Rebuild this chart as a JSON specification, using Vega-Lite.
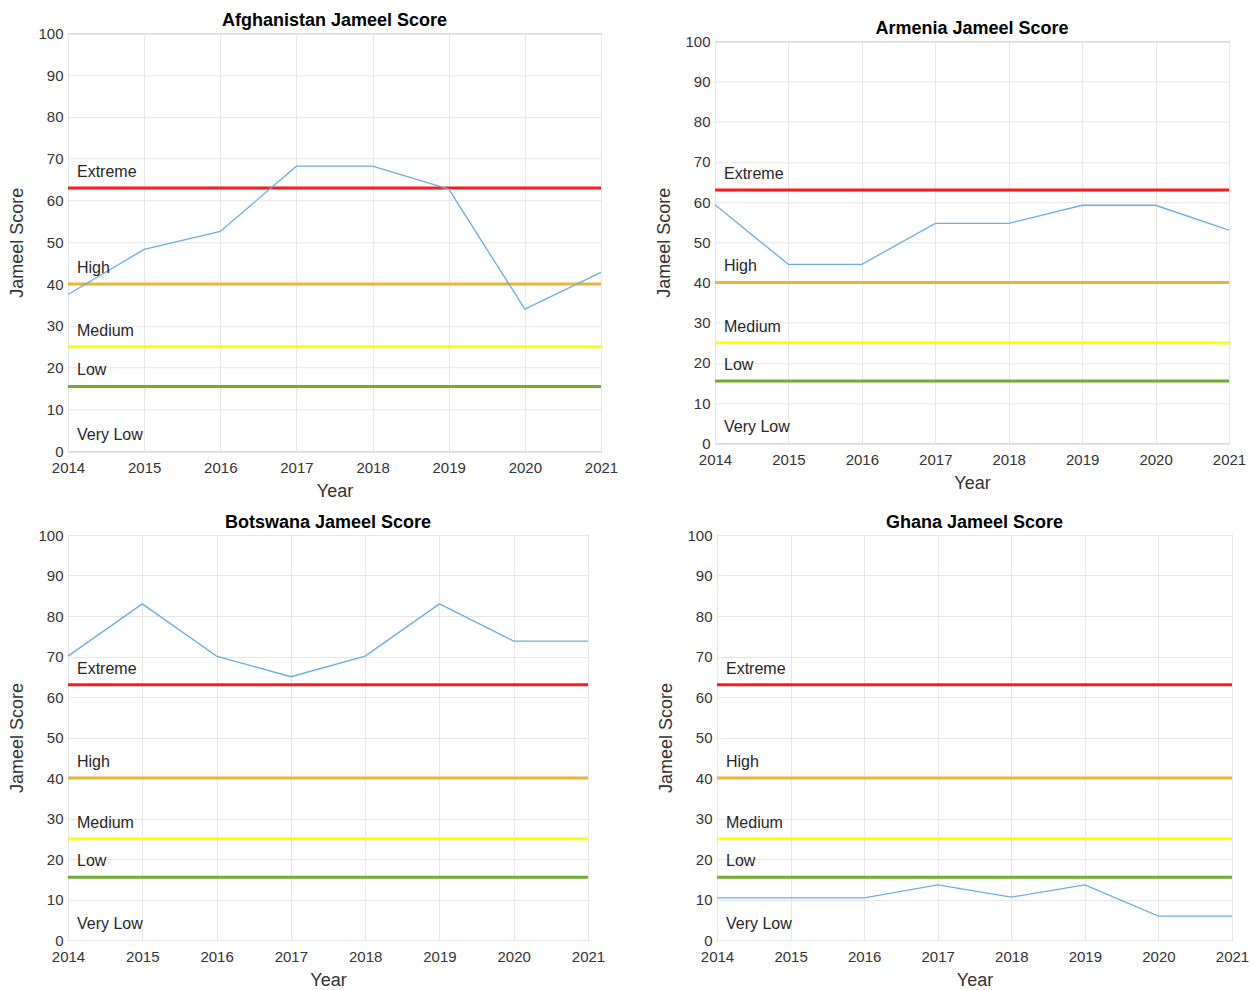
{
  "$schema": "https://vega.github.io/schema/vega-lite/v6.json",
  "padding": {"left": 8, "top": 11, "right": 5, "bottom": 0},
  "background": "white",
  "datasets": {
    "scores": [
      {"country": "Afghanistan", "year": 2014, "score": 37.5},
      {"country": "Afghanistan", "year": 2015, "score": 48.3},
      {"country": "Afghanistan", "year": 2016, "score": 52.6},
      {"country": "Afghanistan", "year": 2017, "score": 68.2},
      {"country": "Afghanistan", "year": 2018, "score": 68.2},
      {"country": "Afghanistan", "year": 2019, "score": 62.7},
      {"country": "Afghanistan", "year": 2020, "score": 34.0},
      {"country": "Afghanistan", "year": 2021, "score": 42.8},
      {"country": "Armenia", "year": 2014, "score": 59.3},
      {"country": "Armenia", "year": 2015, "score": 44.5},
      {"country": "Armenia", "year": 2016, "score": 44.5},
      {"country": "Armenia", "year": 2017, "score": 54.7},
      {"country": "Armenia", "year": 2018, "score": 54.7},
      {"country": "Armenia", "year": 2019, "score": 59.2},
      {"country": "Armenia", "year": 2020, "score": 59.2},
      {"country": "Armenia", "year": 2021, "score": 53.0},
      {"country": "Botswana", "year": 2014, "score": 70.1},
      {"country": "Botswana", "year": 2015, "score": 83.0},
      {"country": "Botswana", "year": 2016, "score": 70.1},
      {"country": "Botswana", "year": 2017, "score": 65.0},
      {"country": "Botswana", "year": 2018, "score": 70.1},
      {"country": "Botswana", "year": 2019, "score": 83.0},
      {"country": "Botswana", "year": 2020, "score": 73.8},
      {"country": "Botswana", "year": 2021, "score": 73.8},
      {"country": "Ghana", "year": 2014, "score": 10.4},
      {"country": "Ghana", "year": 2015, "score": 10.4},
      {"country": "Ghana", "year": 2016, "score": 10.4},
      {"country": "Ghana", "year": 2017, "score": 13.6},
      {"country": "Ghana", "year": 2018, "score": 10.6},
      {"country": "Ghana", "year": 2019, "score": 13.6},
      {"country": "Ghana", "year": 2020, "score": 5.9},
      {"country": "Ghana", "year": 2021, "score": 5.9}
    ],
    "levels": [
      {"level": "Very Low", "bound": 0},
      {"level": "Low", "bound": 15.5},
      {"level": "Medium", "bound": 25},
      {"level": "High", "bound": 40},
      {"level": "Extreme", "bound": 63}
    ]
  },
  "spacing": 12,
  "vconcat": [
    {
      "hconcat": [
        {
          "title": "Afghanistan Jameel Score",
          "width": 533, "height": 418,
          "layer": [
            {"data": {"name": "levels"}, "transform": [{"filter": "datum.bound > 0"}],
             "mark": {"type": "rule", "strokeWidth": 3},
             "encoding": {"y": {"field": "bound", "type": "quantitative", "scale": {"domain": [0, 100]}},
                          "color": {"field": "level", "type": "nominal", "scale": {"domain": ["Low", "Medium", "High", "Extreme"], "range": ["#6fae2e", "#ffff00", "#eeb13a", "#ff1a1a"]}, "legend": null}}},
            {"data": {"name": "scores"}, "transform": [{"filter": "datum.country === 'Afghanistan'"}],
             "mark": {"type": "line", "color": "#6aaee0", "strokeWidth": 1.3},
             "encoding": {"x": {"field": "year", "type": "quantitative", "title": "Year", "scale": {"domain": [2014, 2021], "nice": false, "zero": false}, "axis": {"values": [2014, 2015, 2016, 2017, 2018, 2019, 2020, 2021], "format": "d"}},
                          "y": {"field": "score", "type": "quantitative", "title": "Jameel Score", "scale": {"domain": [0, 100]}, "axis": {"values": [0, 10, 20, 30, 40, 50, 60, 70, 80, 90, 100]}}}},
            {"data": {"name": "levels"},
             "mark": {"type": "text", "align": "left", "baseline": "middle", "dx": 9, "dy": -16, "fontSize": 16, "font": "Liberation Sans", "color": "#262626"},
             "encoding": {"x": {"datum": 2014, "type": "quantitative"}, "y": {"field": "bound", "type": "quantitative"}, "text": {"field": "level"}}}
          ]
        },
        {
          "title": "Armenia Jameel Score",
          "width": 514, "height": 402,
          "layer": [
            {"data": {"name": "levels"}, "transform": [{"filter": "datum.bound > 0"}],
             "mark": {"type": "rule", "strokeWidth": 3},
             "encoding": {"y": {"field": "bound", "type": "quantitative", "scale": {"domain": [0, 100]}},
                          "color": {"field": "level", "type": "nominal", "scale": {"domain": ["Low", "Medium", "High", "Extreme"], "range": ["#6fae2e", "#ffff00", "#eeb13a", "#ff1a1a"]}, "legend": null}}},
            {"data": {"name": "scores"}, "transform": [{"filter": "datum.country === 'Armenia'"}],
             "mark": {"type": "line", "color": "#6aaee0", "strokeWidth": 1.3},
             "encoding": {"x": {"field": "year", "type": "quantitative", "title": "Year", "scale": {"domain": [2014, 2021], "nice": false, "zero": false}, "axis": {"values": [2014, 2015, 2016, 2017, 2018, 2019, 2020, 2021], "format": "d"}},
                          "y": {"field": "score", "type": "quantitative", "title": "Jameel Score", "scale": {"domain": [0, 100]}, "axis": {"values": [0, 10, 20, 30, 40, 50, 60, 70, 80, 90, 100]}}}},
            {"data": {"name": "levels"},
             "mark": {"type": "text", "align": "left", "baseline": "middle", "dx": 9, "dy": -16, "fontSize": 16, "font": "Liberation Sans", "color": "#262626"},
             "encoding": {"x": {"datum": 2014, "type": "quantitative"}, "y": {"field": "bound", "type": "quantitative"}, "text": {"field": "level"}}}
          ]
        }
      ],
      "spacing": 36,
      "center": true
    },
    {
      "hconcat": [
        {
          "title": "Botswana Jameel Score",
          "width": 520, "height": 405,
          "layer": [
            {"data": {"name": "levels"}, "transform": [{"filter": "datum.bound > 0"}],
             "mark": {"type": "rule", "strokeWidth": 3},
             "encoding": {"y": {"field": "bound", "type": "quantitative", "scale": {"domain": [0, 100]}},
                          "color": {"field": "level", "type": "nominal", "scale": {"domain": ["Low", "Medium", "High", "Extreme"], "range": ["#6fae2e", "#ffff00", "#eeb13a", "#ff1a1a"]}, "legend": null}}},
            {"data": {"name": "scores"}, "transform": [{"filter": "datum.country === 'Botswana'"}],
             "mark": {"type": "line", "color": "#6aaee0", "strokeWidth": 1.3},
             "encoding": {"x": {"field": "year", "type": "quantitative", "title": "Year", "scale": {"domain": [2014, 2021], "nice": false, "zero": false}, "axis": {"values": [2014, 2015, 2016, 2017, 2018, 2019, 2020, 2021], "format": "d"}},
                          "y": {"field": "score", "type": "quantitative", "title": "Jameel Score", "scale": {"domain": [0, 100]}, "axis": {"values": [0, 10, 20, 30, 40, 50, 60, 70, 80, 90, 100]}}}},
            {"data": {"name": "levels"},
             "mark": {"type": "text", "align": "left", "baseline": "middle", "dx": 9, "dy": -16, "fontSize": 16, "font": "Liberation Sans", "color": "#262626"},
             "encoding": {"x": {"datum": 2014, "type": "quantitative"}, "y": {"field": "bound", "type": "quantitative"}, "text": {"field": "level"}}}
          ]
        },
        {
          "title": "Ghana Jameel Score",
          "width": 515, "height": 405,
          "layer": [
            {"data": {"name": "levels"}, "transform": [{"filter": "datum.bound > 0"}],
             "mark": {"type": "rule", "strokeWidth": 3},
             "encoding": {"y": {"field": "bound", "type": "quantitative", "scale": {"domain": [0, 100]}},
                          "color": {"field": "level", "type": "nominal", "scale": {"domain": ["Low", "Medium", "High", "Extreme"], "range": ["#6fae2e", "#ffff00", "#eeb13a", "#ff1a1a"]}, "legend": null}}},
            {"data": {"name": "scores"}, "transform": [{"filter": "datum.country === 'Ghana'"}],
             "mark": {"type": "line", "color": "#6aaee0", "strokeWidth": 1.3},
             "encoding": {"x": {"field": "year", "type": "quantitative", "title": "Year", "scale": {"domain": [2014, 2021], "nice": false, "zero": false}, "axis": {"values": [2014, 2015, 2016, 2017, 2018, 2019, 2020, 2021], "format": "d"}},
                          "y": {"field": "score", "type": "quantitative", "title": "Jameel Score", "scale": {"domain": [0, 100]}, "axis": {"values": [0, 10, 20, 30, 40, 50, 60, 70, 80, 90, 100]}}}},
            {"data": {"name": "levels"},
             "mark": {"type": "text", "align": "left", "baseline": "middle", "dx": 9, "dy": -16, "fontSize": 16, "font": "Liberation Sans", "color": "#262626"},
             "encoding": {"x": {"datum": 2014, "type": "quantitative"}, "y": {"field": "bound", "type": "quantitative"}, "text": {"field": "level"}}}
          ]
        }
      ],
      "spacing": 51
    }
  ],
  "config": {
    "view": {"stroke": "#9a9a9a", "strokeWidth": 1},
    "axis": {
      "grid": true, "gridColor": "#e6e6e6", "gridWidth": 1,
      "ticks": false, "domain": false,
      "labelFlush": false, "labelOverlap": false,
      "labelFont": "Liberation Sans", "labelFontSize": 15, "labelColor": "#333333",
      "titleFont": "Liberation Sans", "titleFontSize": 18, "titleFontWeight": "normal", "titleColor": "#333333"
    },
    "axisX": {"labelPadding": 9, "titlePadding": 7},
    "axisY": {"labelPadding": 5, "titlePadding": 11},
    "title": {"font": "Liberation Sans", "fontSize": 18, "fontWeight": "bold", "color": "#000000", "offset": -4}
  }
}
